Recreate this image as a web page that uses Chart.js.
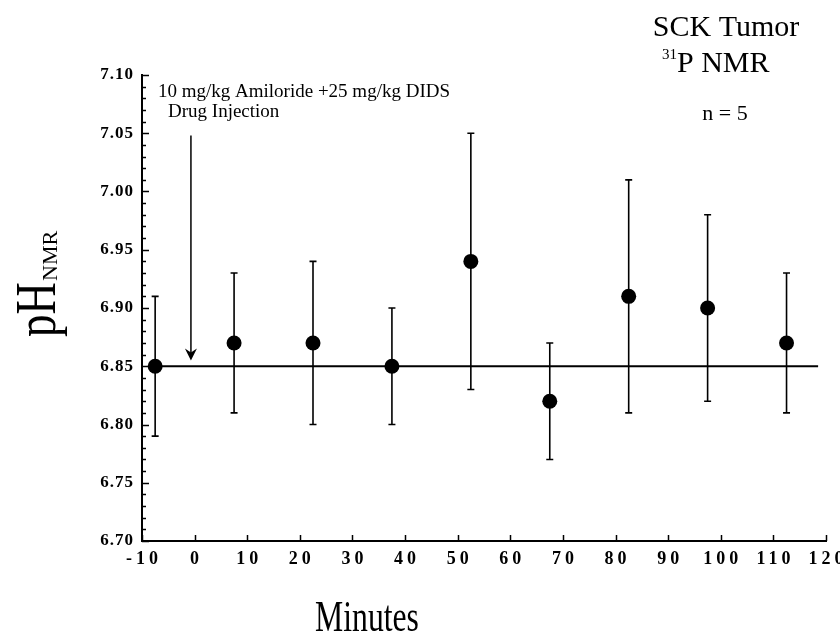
<!DOCTYPE html>
<html>
<head>
<meta charset="utf-8">
<title>SCK Tumor pH</title>
<script src="https://cdn.jsdelivr.net/npm/chart.js@4.4.0/dist/chart.umd.min.js"></script>
<style>
    html, body { margin: 0; padding: 0; background: #fff; }
    canvas { display: block; }
</style>
</head>
<body>
<canvas id="graficoPh" width="840" height="635"></canvas>
<script>
// data
const minutos = [-7.5, 7.5, 22.5, 37.5, 52.5, 67.5, 82.5, 97.5, 112.5];
const phMedio = [6.85, 6.87, 6.87, 6.85, 6.94, 6.82, 6.91, 6.90, 6.87];
const phSuperior = [6.91, 6.93, 6.94, 6.90, 7.05, 6.87, 7.01, 6.98, 6.93];
const phInferior = [6.79, 6.81, 6.80, 6.80, 6.83, 6.77, 6.81, 6.82, 6.81];

// reference line and injection arrow
const linhaBaseX = [-7.5, 118.5];
const linhaBaseY = 6.85;
const injecaoX = -0.7;
const setaTopo = 7.048;
const setaPonta = 6.855;

// axis ticks
const ticksX = [-10, 0, 10, 20, 30, 40, 50, 60, 70, 80, 90, 100, 110, 120];
const ticksY = [6.70, 6.75, 6.80, 6.85, 6.90, 6.95, 7.00, 7.05, 7.10];

const serif = "'Liberation Serif', 'Times New Roman', serif";

function espacarRotulos(scale, espaco) {
    if (!scale || scale._espacado) return;
    const original = scale.drawLabels;
    scale.drawLabels = function(area) {
        const c = this.ctx;
        c.save();
        c.letterSpacing = espaco + 'px';
        if (this.isHorizontal()) c.translate(espaco / 2, 0);
        original.call(this, area);
        c.restore();
    };
    scale._espacado = true;
}

const desenhoExtra = {
    id: 'desenhoExtra',
    beforeDraw(chart) {
        espacarRotulos(chart.scales.x, 4);
        espacarRotulos(chart.scales.y, 1);
    },
    afterDatasetsDraw(chart) {
        const ctx = chart.ctx;
        const x = chart.scales.x;
        const y = chart.scales.y;
        const area = chart.chartArea;
        ctx.save();
        ctx.strokeStyle = '#000';
        ctx.fillStyle = '#000';

        // error bars
        ctx.lineWidth = 1.6;
        for (let i = 0; i < minutos.length; i++) {
            const px = x.getPixelForValue(minutos[i]);
            const top = y.getPixelForValue(phSuperior[i]);
            const bot = y.getPixelForValue(phInferior[i]);
            ctx.beginPath();
            ctx.moveTo(px, top);
            ctx.lineTo(px, bot);
            ctx.moveTo(px - 3.5, top);
            ctx.lineTo(px + 3.5, top);
            ctx.moveTo(px - 3.5, bot);
            ctx.lineTo(px + 3.5, bot);
            ctx.stroke();
        }

        // injection arrow
        const ax = x.getPixelForValue(injecaoX);
        const aTop = y.getPixelForValue(setaTopo);
        const aTip = y.getPixelForValue(setaPonta);
        ctx.lineWidth = 1.5;
        ctx.beginPath();
        ctx.moveTo(ax, aTop);
        ctx.lineTo(ax, aTip - 6);
        ctx.stroke();
        ctx.beginPath();
        ctx.moveTo(ax, aTip);
        ctx.lineTo(ax - 6, aTip - 12);
        ctx.lineTo(ax, aTip - 8);
        ctx.lineTo(ax + 6, aTip - 12);
        ctx.closePath();
        ctx.fill();

        // inward ticks on the axes
        ctx.lineWidth = 1.5;
        ctx.beginPath();
        for (let k = 0; k < ticksY.length - 1; k++) {
            for (let m = 0; m < 5; m++) {
                const v = ticksY[k] + m * (ticksY[k + 1] - ticksY[k]) / 5;
                const py = Math.round(y.getPixelForValue(v)) + 0.5;
                ctx.moveTo(area.left, py);
                ctx.lineTo(area.left + (m === 0 ? 7 : 4), py);
            }
        }
        const pTop = Math.round(y.getPixelForValue(ticksY[ticksY.length - 1])) + 0.5;
        ctx.moveTo(area.left, pTop);
        ctx.lineTo(area.left + 7, pTop);
        ticksX.forEach(function(v) {
            const px = Math.round(x.getPixelForValue(v)) + 0.5;
            ctx.moveTo(px, area.bottom);
            ctx.lineTo(px, area.bottom - 6);
        });
        ctx.stroke();
        ctx.restore();
    },
    afterDraw(chart) {
        const ctx = chart.ctx;
        ctx.save();
        ctx.fillStyle = '#000';
        ctx.textBaseline = 'alphabetic';

        // y title pH with NMR subscript
        ctx.save();
        ctx.translate(55, 337);
        ctx.rotate(-Math.PI / 2);
        ctx.save();
        ctx.scale(0.8, 1);
        ctx.font = '56px ' + serif;
        ctx.textAlign = 'left';
        ctx.fillText('pH', 0, 0);
        ctx.restore();
        ctx.font = '22px ' + serif;
        ctx.fillText('NMR', 56, 2);
        ctx.restore();

        // x title
        ctx.save();
        ctx.translate(367, 631);
        ctx.scale(0.72, 1);
        ctx.font = '44px ' + serif;
        ctx.textAlign = 'center';
        ctx.fillText('Minutes', 0, 0);
        ctx.restore();

        // top right block
        ctx.textAlign = 'center';
        ctx.font = '30px ' + serif;
        ctx.fillText('SCK Tumor', 726, 36);
        ctx.textAlign = 'left';
        ctx.font = '15px ' + serif;
        ctx.fillText('31', 662, 59);
        ctx.font = '30px ' + serif;
        ctx.fillText('P NMR', 677, 72);
        ctx.textAlign = 'center';
        ctx.font = '22px ' + serif;
        ctx.fillText('n = 5', 725, 120);

        // drug annotation
        ctx.textAlign = 'left';
        ctx.font = '19px ' + serif;
        ctx.fillText('10 mg/kg Amiloride +25 mg/kg DIDS', 158, 97);
        ctx.fillText('Drug Injection', 168, 117);
        ctx.restore();
    }
};

document.addEventListener('DOMContentLoaded', function() {
    const pontos = minutos.map(function(m, i) { return { x: m, y: phMedio[i] }; });
    const linha = linhaBaseX.map(function(m) { return { x: m, y: linhaBaseY }; });

    new Chart(document.getElementById('graficoPh'), {
        type: 'scatter',
        data: {
            datasets: [{
                label: 'pH NMR',
                data: pontos,
                backgroundColor: '#000',
                borderColor: '#000',
                borderWidth: 0,
                pointRadius: 7.5,
                pointHoverRadius: 7.5
            }, {
                label: 'baseline',
                data: linha,
                showLine: true,
                borderColor: '#000',
                borderWidth: 2,
                pointRadius: 0
            }]
        },
        options: {
            responsive: false,
            animation: false,
            devicePixelRatio: 1,
            layout: {
                autoPadding: false,
                padding: { top: 75, right: 14, left: 0, bottom: 0 }
            },
            plugins: {
                legend: { display: false },
                tooltip: { enabled: false },
                title: { display: false }
            },
            scales: {
                x: {
                    type: 'linear',
                    min: -10,
                    max: 120,
                    afterBuildTicks: function(scale) {
                        scale.ticks = ticksX.map(function(v) { return { value: v }; });
                    },
                    afterFit: function(scale) {
                        scale.height = 94;
                        scale.paddingLeft = 0;
                        scale.paddingRight = 0;
                    },
                    grid: { display: false, drawTicks: false },
                    border: { display: true, color: '#000', width: 2 },
                    ticks: {
                        color: '#000',
                        padding: 8,
                        maxRotation: 0,
                        autoSkip: false,
                        font: { family: serif, size: 18, weight: 'bold' }
                    }
                },
                y: {
                    type: 'linear',
                    min: 6.70,
                    max: 7.10,
                    afterBuildTicks: function(scale) {
                        scale.ticks = ticksY.map(function(v) { return { value: v }; });
                    },
                    afterFit: function(scale) {
                        scale.width = 142;
                        scale.paddingTop = 0;
                        scale.paddingBottom = 0;
                    },
                    grid: { display: false, drawTicks: false },
                    border: { display: true, color: '#000', width: 2 },
                    ticks: {
                        color: '#000',
                        padding: 8,
                        autoSkip: false,
                        font: { family: serif, size: 17, weight: 'bold' },
                        callback: function(v) { return Number(v).toFixed(2); }
                    }
                }
            }
        },
        plugins: [desenhoExtra]
    });
});
</script>
</body>
</html>
